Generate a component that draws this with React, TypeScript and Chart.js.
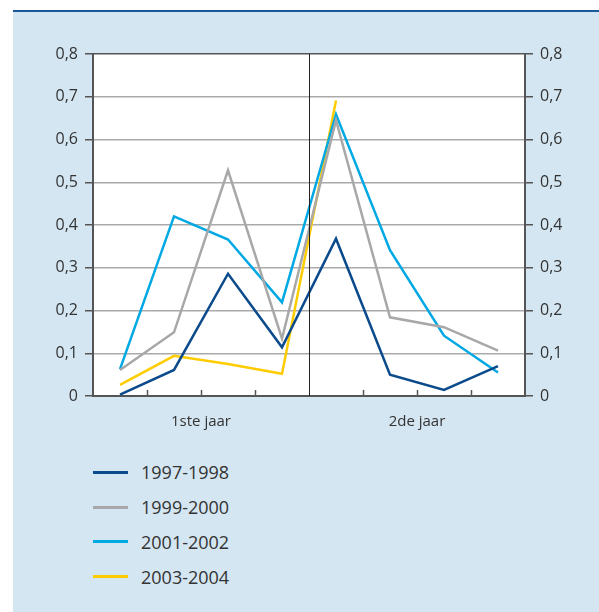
import React, { useEffect, useRef } from "react";
import { Chart, registerables } from "chart.js";

Chart.register(...registerables);

const categories = [
  "1ste jaar K1", "1ste jaar K2", "1ste jaar K3", "1ste jaar K4",
  "2de jaar K1", "2de jaar K2", "2de jaar K3", "2de jaar K4",
];
const groupLabels = ["1ste jaar", "2de jaar"];
const yTicks = [0, 0.1, 0.2, 0.3, 0.4, 0.5, 0.6, 0.7, 0.8];

const s1997 = [0.003, 0.061, 0.286, 0.114, 0.368, 0.05, 0.014, 0.07];
const s1999 = [0.061, 0.149, 0.528, 0.134, 0.645, 0.184, 0.161, 0.106];
const s2001 = [0.063, 0.42, 0.366, 0.219, 0.659, 0.341, 0.141, 0.055];
const s2003 = [0.026, 0.094, 0.075, 0.052, 0.691, null, null, null];

const seriesNames = ["1997-1998", "1999-2000", "2001-2002", "2003-2004"];
const seriesData = [s1997, s1999, s2001, s2003];
const seriesColors = ["#0b4b8c", "#a8a8a8", "#00a8e4", "#ffcc00"];

const FONT = "'Open Sans', 'Noto Sans', sans-serif";
const TEXT = "#333333";

const fmt = (v: number) => v === 0 ? "0" : v.toFixed(1).replace(".", ",");

export default function App() {
  const ref = useRef<HTMLCanvasElement | null>(null);

  useEffect(() => {
    document.body.style.margin = "0";
    const canvas = ref.current;
    if (!canvas) return;

    const bgPlugin = {
      id: "plotBg",
      beforeDraw(chart: any) {
        const { ctx, chartArea } = chart;
        ctx.save();
        ctx.fillStyle = "#ffffff";
        ctx.fillRect(chartArea.left, chartArea.top, chartArea.right - chartArea.left, chartArea.bottom - chartArea.top);
        ctx.restore();
      },
      afterDatasetsDraw(chart: any) {
        const { ctx, chartArea } = chart;
        const xs = chart.scales.x;
        ctx.save();
        ctx.strokeStyle = "#555555";
        ctx.lineWidth = 1.5;
        for (let i = 1; i < categories.length; i++) {
          if (i === 4) continue;
          const px = Math.round(xs.getPixelForValue(i - 0.5)) + 0.5;
          ctx.beginPath();
          ctx.moveTo(px, chartArea.bottom);
          ctx.lineTo(px, chartArea.bottom - 6);
          ctx.stroke();
        }
        const mx = Math.round(xs.getPixelForValue(3.5)) + 0.5;
        ctx.strokeStyle = "#222222";
        ctx.lineWidth = 1;
        ctx.beginPath();
        ctx.moveTo(mx, chartArea.top);
        ctx.lineTo(mx, chartArea.bottom);
        ctx.stroke();
        ctx.restore();
      },
    };

    const yCommon = (position: "left" | "right", onArea: boolean) => ({
      type: "linear" as const,
      position,
      min: 0,
      max: 0.8,
      afterBuildTicks: (scale: any) => {
        scale.ticks = yTicks.map((v) => ({ value: v }));
      },
      afterFit: (scale: any) => {
        scale.width = position === "left" ? 93 : 74;
      },
      border: { display: true, color: "#555555", width: 2 },
      grid: {
        drawOnChartArea: onArea,
        drawTicks: true,
        tickLength: 8,
        tickColor: "#555555",
        lineWidth: 1.5,
        color: (ctx: any) => (ctx.tick && (ctx.tick.value === 0.8 || ctx.tick.value === 0) ? "#555555" : "#aaaaaa"),
      },
      ticks: {
        padding: 7,
        color: TEXT,
        font: { family: FONT, size: 16 },
        callback: (v: any) => fmt(Number(v)),
      },
    });

    const chart = new Chart(canvas, {
      type: "line",
      data: {
        labels: categories,
        datasets: seriesNames.map((name, i) => ({
          label: name,
          data: seriesData[i],
          borderColor: seriesColors[i],
          backgroundColor: seriesColors[i],
          borderWidth: 2.5,
          pointRadius: 0,
          tension: 0,
          spanGaps: false,
        })),
      },
      options: {
        animation: false,
        responsive: false,
        maintainAspectRatio: false,
        layout: { padding: { top: 54, left: 0, right: 0, bottom: 0 } },
        plugins: {
          legend: { display: false },
          tooltip: { enabled: false },
        },
        scales: {
          x: {
            type: "category",
            offset: true,
            afterFit: (scale: any) => {
              scale.height = 44;
            },
            border: { display: true, color: "#555555", width: 2 },
            grid: { display: false, offset: true },
            ticks: {
              autoSkip: false,
              maxRotation: 0,
              padding: 9,
              labelOffset: 27,
              color: TEXT,
              font: { family: FONT, size: 15 },
              callback: (_v: any, idx: number) => (idx === 1 ? groupLabels[0] : idx === 5 ? groupLabels[1] : ""),
            },
          },
          y: yCommon("left", true),
          y2: yCommon("right", false),
        },
      },
      plugins: [bgPlugin],
    });

    return () => chart.destroy();
  }, []);

  return (
    <div style={{ position: "relative", width: 599, height: 612, background: "#ffffff", overflow: "hidden" }}>
      <div
        style={{
          position: "absolute",
          left: 13,
          top: 10,
          width: 586,
          height: 602,
          background: "#d4e6f1",
          borderTop: "2px solid #1a5a9a",
          boxSizing: "border-box",
        }}
      />
      <canvas ref={ref} width={599} height={440} style={{ position: "absolute", left: 0, top: 0, width: 599, height: 440 }} />
      <div style={{ position: "absolute", left: 93, top: 455, fontFamily: FONT, fontSize: 18, color: TEXT }}>
        {seriesNames.map((name, i) => (
          <div key={name} style={{ display: "flex", alignItems: "center", height: 34.8 }}>
            <span style={{ display: "inline-block", width: 35, height: 3, background: seriesColors[i], marginRight: 13 }} />
            <span>{name}</span>
          </div>
        ))}
      </div>
    </div>
  );
}
